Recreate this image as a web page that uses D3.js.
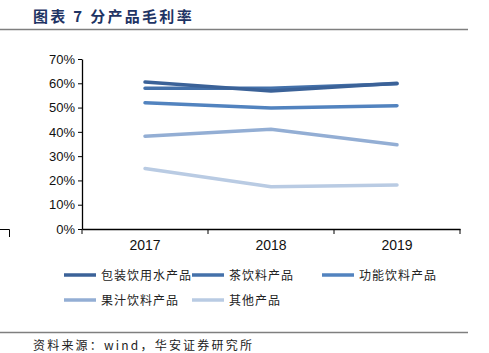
<!DOCTYPE html>
<html>
<head>
<meta charset="utf-8">
<script src="https://cdn.jsdelivr.net/npm/d3@7"></script>
<style>
  body { margin: 0; background: #fff; }
  svg { display: block; }
</style>
</head>
<body>
<div class="chartdiv"></div>
<script>
// data
var years = ["2017", "2018", "2019"];
var seriesNames = ["包装饮用水产品", "茶饮料产品", "功能饮料产品", "果汁饮料产品", "其他产品"];
var waterMargin = [0.605, 0.568, 0.600];
var teaMargin = [0.580, 0.580, 0.598];
var sportMargin = [0.520, 0.498, 0.508];
var juiceMargin = [0.382, 0.411, 0.347];
var otherMargin = [0.249, 0.174, 0.181];
var yTicks = [0, 0.1, 0.2, 0.3, 0.4, 0.5, 0.6, 0.7];
var colors = ["#3b6298", "#4471aa", "#5283bf", "#93aed4", "#b9cbe3"];

var allSeries = [waterMargin, teaMargin, sportMargin, juiceMargin, otherMargin];

// plot area
var margin = {top: 59, left: 82};
var width = 378;
var height = 170;

var svg = d3.select(".chartdiv")
    .append("svg")
    .attr("width", 489)
    .attr("height", 353);

// title and rules
svg.append("text")
    .attr("x", 33)
    .attr("y", 22)
    .style("font-family", "'Noto Sans CJK SC'")
    .style("font-weight", "bold")
    .style("font-size", "15px")
    .style("letter-spacing", "2.3px")
    .style("fill", "#1f3464")
    .text("图表 7 分产品毛利率");

svg.append("line")
    .attr("x1", 0).attr("x2", 468)
    .attr("y1", 29.5).attr("y2", 29.5)
    .style("stroke", "#7f7f7f")
    .style("stroke-width", 1.5);

svg.append("line")
    .attr("x1", 0).attr("x2", 468)
    .attr("y1", 332.5).attr("y2", 332.5)
    .style("stroke", "#7f7f7f")
    .style("stroke-width", 1.5);

svg.append("text")
    .attr("x", 33)
    .attr("y", 350)
    .style("font-family", "'Noto Sans CJK SC'")
    .style("font-size", "12px")
    .style("letter-spacing", "2.2px")
    .style("fill", "#222")
    .text("资料来源：wind，华安证券研究所");

// small bracket mark at the left edge
svg.append("path")
    .attr("d", "M0,229.5 H9.5 V237")
    .style("fill", "none")
    .style("stroke", "#000")
    .style("stroke-width", 1);

var g = svg.append("g")
    .attr("transform", "translate(" + margin.left + "," + margin.top + ")");

// scales
var x = d3.scaleBand().domain(years).range([0, width]);
var y = d3.scaleLinear().domain([0, 0.7]).range([height, 0]);

// axes
var yAxis = g.append("g")
    .call(d3.axisLeft(y).tickValues(yTicks).tickFormat(d3.format(".0%")).tickSize(4).tickSizeOuter(0));

var xAxis = g.append("g")
    .attr("transform", "translate(0," + height + ")")
    .call(d3.axisBottom(x).tickSize(0).tickSizeOuter(0));

// x ticks sit on the band edges, not the centers
g.append("g")
    .attr("transform", "translate(0," + height + ")")
    .selectAll("line")
    .data([0, 1, 2, 3])
  .enter().append("line")
    .attr("x1", function(d) { return d * x.bandwidth(); })
    .attr("x2", function(d) { return d * x.bandwidth(); })
    .attr("y1", 0)
    .attr("y2", 5)
    .style("stroke", "#000");

g.selectAll(".domain").style("stroke", "#000").style("stroke-width", 1.3);
g.selectAll(".tick line").style("stroke", "#000");
yAxis.selectAll("text")
    .attr("x", -7)
    .style("font-family", "'Liberation Sans'")
    .style("font-size", "13px")
    .style("fill", "#111");
xAxis.selectAll("text")
    .attr("y", 11)
    .style("font-family", "'Liberation Sans'")
    .style("font-size", "14px")
    .style("fill", "#111");

// lines
var line = d3.line()
    .x(function(d, i) { return x(years[i]) + x.bandwidth() / 2; })
    .y(function(d) { return y(d); });

// draw lightest first so darker lines sit on top
d3.range(allSeries.length).reverse().forEach(function(k) {
  g.append("path")
      .datum(allSeries[k])
      .attr("d", line)
      .style("fill", "none")
      .style("stroke", colors[k])
      .style("stroke-width", 3.5)
      .style("stroke-linecap", "round");
});

// legend
var legendPos = [[64, 275], [192, 275], [322, 275], [64, 300], [192, 300]];

var legend = svg.selectAll(".legend")
    .data(seriesNames)
  .enter().append("g")
    .classed("legend", true)
    .attr("transform", function(d, i) { return "translate(" + legendPos[i][0] + "," + legendPos[i][1] + ")"; });

legend.append("line")
    .attr("x1", 0).attr("x2", 32)
    .attr("y1", 0).attr("y2", 0)
    .style("stroke", function(d, i) { return colors[i]; })
    .style("stroke-width", 3.5);

legend.append("text")
    .attr("x", 37)
    .attr("y", 4.5)
    .style("font-family", "'Noto Sans CJK SC'")
    .style("font-size", "12px")
    .style("letter-spacing", "1px")
    .style("fill", "#222")
    .text(function(d) { return d; });
</script>
</body>
</html>
